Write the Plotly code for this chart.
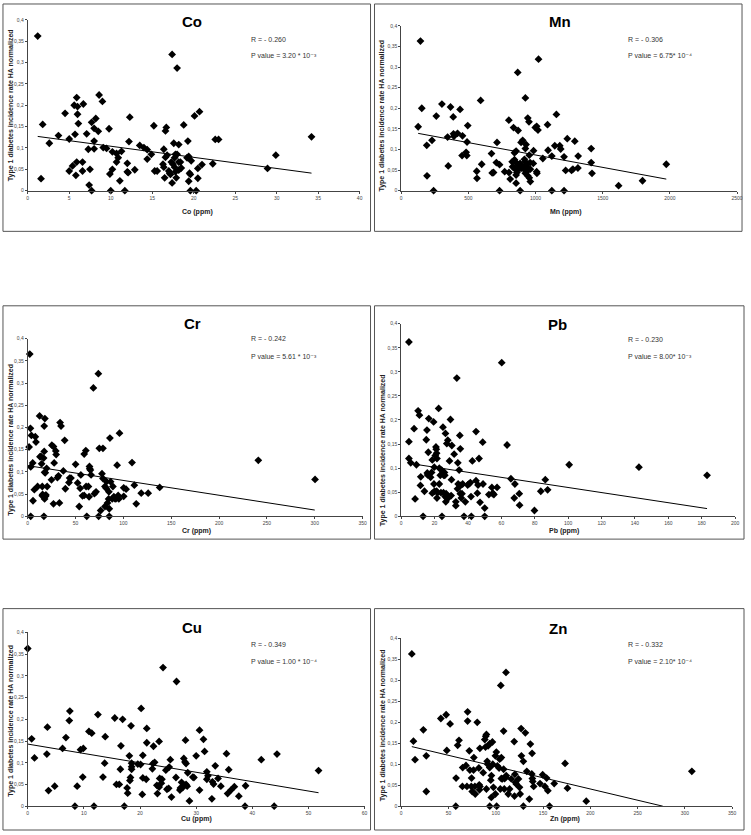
import plotly.graph_objects as go

W, H = 751, 835

# ---------------- data ----------------
co_data = [(1.2,0.362),(1.6,0.028),(1.8,0.155),(2.6,0.111),(3.7,0.129),(4.5,0.181),(5.0,0.121),(5.0,0.046),
 (5.4,0.058),(5.6,0.200),(5.7,0.132),(5.8,0.036),(5.9,0.218),(5.9,0.067),(6.0,0.197),(6.0,0.179),(6.1,0.157),
 (6.6,0.067),(6.6,0.046),(6.7,0.203),(7.1,0.133),(7.3,0.097),(7.4,0.013),(7.5,0.050),(7.7,0.160),(7.7,0.0),
 (8.0,0.116),(8.0,0.146),(8.0,0.098),(8.2,0.169),(8.5,0.139),(8.6,0.224),(9.0,0.209),(9.1,0.101),(9.5,0.099),
 (9.8,0.145),(9.9,0.039),(10.0,0.0),(10.2,0.091),(10.2,0.050),(10.7,0.087),(10.7,0.067),(10.9,0.077),(11.1,0.023),
 (11.3,0.092),(11.7,0.0),(12.0,0.064),(12.0,0.044),(12.1,0.042),(12.2,0.115),(12.3,0.172),(12.9,0.049),(13.5,0.106),
 (14.0,0.101),(14.4,0.096),(14.4,0.074),(14.9,0.085),(15.2,0.152),(15.3,0.046),(15.6,0.046),(16.3,0.062),(16.4,0.055),
 (16.4,0.097),(16.5,0.030),(16.6,0.140),(16.7,0.148),(16.6,0.078),(16.8,0.083),(17.0,0.046),(17.1,0.041),(17.2,0.038),
 (17.3,0.067),(17.4,0.018),(17.4,0.319),(17.5,0.062),(17.6,0.111),(17.7,0.077),(17.7,0.055),(17.8,0.085),(17.8,0.044),
 (17.9,0.030),(18.0,0.287),(18.0,0.085),(18.2,0.108),(18.2,0.067),(18.2,0.048),(18.4,0.067),(18.5,0.053),(18.8,0.154),
 (19.2,0.077),(19.3,0.116),(19.4,0.080),(19.4,0.022),(19.5,0.041),(19.6,0.038),(19.6,0.0),(19.7,0.070),(20.1,0.175),
 (20.3,0.0),(20.5,0.052),(20.5,0.029),(20.7,0.185),(21.0,0.061),(22.3,0.063),(22.6,0.120),(23.0,0.120),(28.9,0.052),
 (29.9,0.083),(34.2,0.126)]
co_trend_x = [1.2, 34.2]
co_trend_y = [0.127, 0.041]

mn_data = [(126,0.155),(143,0.363),(153,0.200),(190,0.110),(192,0.036),(229,0.122),(241,0),(261,0.181),(303,0.210),
 (345,0.130),(350,0.060),(367,0.203),(387,0.179),(389,0.138),(392,0.132),(419,0.139),(438,0.197),(456,0.133),
 (453,0.085),(483,0.093),(488,0.085),(490,0.118),(495,0.158),(562,0.047),(564,0.030),(591,0.219),(599,0.064),
 (672,0.090),(677,0.043),(687,0.044),(708,0.068),(713,0.117),(732,0.063),(732,0),(770,0.046),(801,0.171),(802,0.044),
 (811,0.028),(826,0.070),(829,0.058),(836,0.153),(843,0.092),(843,0.075),(844,0.054),(855,0.096),(855,0.068),
 (855,0.038),(855,0.018),(861,0.049),(861,0.044),(867,0.287),(870,0.146),(870,0.063),(873,0.055),(885,0.066),
 (885,0),(892,0.117),(892,0.054),(904,0.122),(904,0.058),(914,0.052),(917,0.076),(924,0.225),(924,0.102),(924,0.070),
 (924,0.042),(929,0.112),(934,0.063),(934,0.046),(942,0.176),(942,0.055),(942,0.036),(951,0.167),(953,0.086),
 (953,0.031),(959,0.068),(961,0.052),(961,0.022),(983,0.066),(985,0.097),(998,0.153),(1008,0.156),(1008,0.046),
 (1010,0.042),(1018,0.147),(1022,0.319),(1054,0.078),(1089,0.160),(1093,0.098),(1121,0.084),(1121,0),(1143,0.109),
 (1155,0.185),(1180,0.109),(1187,0.101),(1212,0.082),(1212,0),(1224,0.049),(1236,0.126),(1268,0.049),(1278,0.052),
 (1292,0.120),(1315,0.055),(1317,0.084),(1414,0.102),(1414,0.068),(1420,0.042),(1618,0.012),(1796,0.024),(1973,0.064)]
mn_trend_x = [126, 1973]
mn_trend_y = [0.139, 0.028]

cr_data = [(2.1,0.365),(1.4,0.156),(2.8,0.198),(3.1,0.111),(3.1,0),(3.8,0.182),(5.2,0.120),(5.5,0.035),(6.9,0.060),
 (7.9,0.179),(8.6,0.167),(10.3,0.067),(12.4,0.226),(12.8,0.134),(13.8,0.135),(14.5,0.118),(15.2,0.067),(15.5,0.049),
 (15.2,0.046),(16.6,0.131),(16.9,0.046),(17.2,0.203),(17.2,0.146),(17.6,0.099),(17.6,0.039),(16.9,0),(17.9,0.220),
 (18.3,0.098),(18.6,0.045),(19.0,0.048),(19.7,0.108),(20.3,0.067),(24.8,0.082),(25.2,0.160),(26.9,0.157),(26.9,0.028),
 (27.6,0.120),(29.3,0.147),(29.7,0.139),(31.0,0.087),(32.1,0.091),(33.1,0.030),(33.8,0.211),(34.8,0.203),(37.2,0.102),
 (38.6,0.171),(39.3,0.062),(43.1,0.076),(43.8,0.086),(45.2,0.086),(50.0,0.117),(52.1,0.075),(53.8,0.022),(54.8,0.063),
 (55.5,0.093),(57.2,0.046),(59.0,0.047),(59.0,0.140),(60.7,0.148),(61.0,0.067),(61.7,0),(63.4,0.067),(64.1,0.044),
 (64.5,0.112),(64.8,0.107),(65.5,0.104),(66.2,0.093),(68.6,0.289),(69.7,0.051),(71.4,0.055),(73.8,0.321),(74.1,0),
 (74.8,0.153),(76.2,0.013),(77.6,0.096),(78.6,0.153),(78.6,0.085),(80.7,0.022),(80.7,0.067),(82.1,0.063),(82.4,0.078),
 (83.4,0.030),(84.8,0.055),(84.5,0.039),(85.2,0.017),(85.2,0),(85.9,0.176),(86.6,0.078),(88.3,0.039),(89.0,0.067),
 (90.0,0.044),(91.0,0.040),(92.1,0.039),(93.4,0.115),(94.5,0.047),(95.2,0.039),(95.9,0.187),(100.3,0.064),
 (100.3,0.045),(102.8,0.061),(109.0,0.121),(111.4,0.070),(113.4,0.028),(118.6,0.052),(125.9,0.052),(137.9,0.065),
 (241,0.126),(300.3,0.083)]
cr_trend_x = [0, 300]
cr_trend_y = [0.114, 0.014]

pb_data = [(4.6,0.362),(4.6,0.155),(4.6,0.120),(5.7,0.111),(7.7,0.182),(8.3,0.036),(9.1,0.107),(10.1,0.219),
 (10.9,0.210),(11.5,0.064),(11.7,0.082),(13.1,0),(13.9,0.052),(15.0,0.159),(15.6,0.090),(15.4,0.179),(15.8,0.086),
 (16.2,0.133),(16.5,0.203),(17.6,0.081),(18.2,0.091),(18.6,0.117),(18.6,0.048),(19.4,0.196),(19.6,0.067),(19.8,0.102),
 (20.0,0.052),(20.4,0.126),(20.8,0.144),(21.0,0.139),(21.2,0.052),(21.2,0.131),(21.4,0.120),(21.4,0.038),(21.8,0.049),
 (22.4,0.224),(22.8,0.100),(22.8,0.067),(23.4,0.085),(23.8,0.049),(24.2,0.096),(24.4,0),(24.6,0.089),(25.0,0.185),
 (25.3,0.049),(25.5,0.085),(25.9,0.091),(26.1,0.085),(26.5,0.172),(26.3,0.041),(26.7,0.030),(26.9,0.047),(27.3,0.151),
 (27.5,0.037),(27.7,0.043),(27.9,0.158),(28.1,0.038),(28.9,0.115),(29.5,0.201),(29.9,0.043),(30.1,0.076),(30.3,0.147),
 (31.7,0.129),(32.7,0.030),(32.7,0.022),(33.3,0.287),(33.7,0.057),(33.9,0.111),(34.1,0.067),(34.7,0.096),(35.1,0.168),
 (35.4,0.140),(35.4,0.047),(35.6,0.064),(36.0,0.038),(36.4,0.047),(36.8,0.067),(37.6,0),(38.4,0.030),(39.8,0.065),
 (40.8,0.068),(41.4,0.070),(41.8,0.041),(42.0,0),(42.6,0.115),(44.8,0.074),(44.8,0.176),(45.6,0.048),(46.0,0.065),
 (46.6,0.120),(47.2,0.029),(48.8,0.154),(49.0,0.067),(50.0,0.017),(50.0,0),(52.5,0.045),(54.3,0.060),(54.7,0.047),
 (54.9,0.048),(55.5,0.045),(57.4,0.060),(60.2,0.319),(63.4,0.148),(65.7,0.078),(68.1,0.067),(67.7,0.038),(70.7,0.047),
 (70.9,0.023),(79.8,0.012),(83.6,0.052),(86.3,0.076),(87.7,0.055),(100.6,0.107),(142.4,0.102),(183.2,0.085)]
pb_trend_x = [4.6, 183.2]
pb_trend_y = [0.110, 0.016]

cu_data = [(0.0,0.363),(0.7,0.155),(1.2,0.111),(3.5,0.182),(3.4,0.120),(3.7,0.036),(4.8,0.046),(6.2,0.133),(6.8,0.158),
 (7.4,0.197),(7.5,0.219),(8.4,0),(8.8,0.046),(9.4,0.130),(9.9,0.133),(9.8,0.067),(10.9,0.172),(11.4,0.168),(11.8,0),
 (12.5,0.211),(13.4,0.067),(13.7,0.099),(13.8,0.160),(15.5,0.203),(15.8,0.050),(16.3,0.050),(16.5,0.085),(16.6,0.139),
 (16.9,0.200),(17.2,0),(17.7,0.042),(17.8,0.030),(18.1,0.116),(18.2,0.059),(18.3,0.066),(18.4,0.185),(18.5,0.099),
 (18.5,0.091),(18.5,0.085),(19.6,0.097),(20.1,0.096),(20.2,0.225),(20.4,0.027),(20.5,0.117),(20.5,0.065),(21.1,0.062),
 (21.2,0.179),(21.2,0.146),(22.2,0.086),(22.3,0.098),(22.4,0.138),(22.6,0.101),(23.0,0.048),(23.1,0.029),(23.4,0.149),
 (23.4,0.044),(23.5,0.064),(23.9,0.062),(23.8,0.053),(24.1,0.319),(24.6,0.083),(24.8,0.039),(25.1,0.041),(25.2,0.090),
 (25.4,0.107),(25.6,0.021),(26.4,0.066),(26.5,0.287),(27.1,0.037),(27.2,0.042),(27.4,0.055),(27.6,0.043),(27.8,0.110),
 (28.0,0.102),(28.1,0.152),(28.2,0.098),(28.2,0.050),(28.4,0.046),(28.5,0.077),(28.8,0.012),(29.4,0.067),(29.6,0.066),
 (30.0,0.116),(30.6,0.037),(30.6,0.175),(31.3,0.154),(31.5,0.126),(31.9,0.079),(31.9,0.062),(32.1,0.070),(32.8,0.017),
 (32.9,0.056),(33.1,0.051),(33.4,0.093),(33.9,0.064),(34.4,0.046),(35.4,0.121),(35.6,0.029),(35.8,0.084),(36.2,0.037),
 (36.8,0.045),(37.6,0.023),(38.7,0),(38.8,0.047),(41.6,0.107),(43.9,0),(44.4,0.120),(51.8,0.082)]
cu_trend_x = [0, 51.8]
cu_trend_y = [0.143, 0.031]

zn_data = [(11.2,0.363),(12.9,0.155),(14.6,0.111),(23.4,0.182),(26.5,0.120),(26.5,0.035),(41.9,0.209),(47.5,0.218),
 (51.7,0.196),(48.2,0.133),(58.0,0.067),(57.7,0),(61.1,0.157),(59.7,0.145),(65.0,0.092),(64.7,0.047),(68.5,0.097),
 (70.2,0.225),(70.2,0.203),(69.5,0.047),(72.0,0.132),(72.6,0.086),(74.4,0.067),(74.1,0.047),(75.1,0.035),(76.8,0.116),
 (76.5,0.086),(77.9,0.047),(78.3,0.029),(80.4,0.200),(82.1,0.091),(83.2,0.138),(82.5,0.051),(82.8,0.039),(83.2,0.047),
 (86.7,0.080),(90.1,0.041),(89.1,0.141),(89.4,0.167),(90.1,0.171),(88.4,0.159),(90.9,0.107),(91.5,0.100),(91.9,0.144),
 (93.6,0.092),(93.6,0.149),(95.4,0.073),(94.7,0.062),(96.4,0.153),(95.3,0.021),(93.6,0),(96.8,0.100),(97.5,0.045),
 (99.6,0.029),(99.6,0.120),(100.6,0.129),(100.9,0),(101.7,0.096),(103.5,0.091),(104.1,0.112),(105.9,0.116),(104.8,0.041),
 (105.9,0.066),(106.9,0.065),(108.3,0.179),(108.3,0.088),(109.0,0.041),(109.4,0.066),(110.4,0.069),(111.1,0.073),
 (113.2,0.029),(114.6,0.041),(116.4,0.065),(119.5,0.154),(120.2,0.076),(119.8,0.024),(120.8,0.057),(121.6,0.053),
 (124.0,0.065),(125.1,0.045),(125.8,0.029),(126.8,0.185),(127.1,0.120),(129.2,0),(129.2,0.107),(131.3,0.175),
 (132.8,0.083),(135.5,0.017),(136.6,0.148),(138.4,0.126),(138.1,0.077),(138.7,0.066),(139.1,0.059),(140.1,0.047),
 (146.8,0.054),(149.6,0.075),(152.0,0.047),(153.8,0.067),(155.1,0.037),(156.9,0),(161.8,0.054),(173.3,0.102),
 (175.8,0.043),(195.7,0.012),(105.3,0.288),(110.8,0.319),(307.4,0.083)]
zn_trend_x = [11.2, 276.7]
zn_trend_y = [0.142, 0.0]

y_tick_vals = [0, 0.05, 0.1, 0.15, 0.2, 0.25, 0.3, 0.35, 0.4]
y_tick_text = ["0", "0,05", "0,1", "0,15", "0,2", "0,25", "0,3", "0,35", "0,4"]

# ---------------- panel layout (pixel geometry) ----------------
panels = [
    dict(name="Co", data=co_data, tx=co_trend_x, ty=co_trend_y, xmax=40, dtick=5,
         plot=(27, 362, 17, 189), border=(2, 1, 373, 230), title=(193, 19), stats=(250, 37, 53),
         xlab=(198, 211), ylab=(10, 103), r="R = - 0.260", p="P value = 3.20 * 10⁻³"),
    dict(name="Mn", data=mn_data, tx=mn_trend_x, ty=mn_trend_y, xmax=2500, dtick=500,
         plot=(404, 743, 23, 189), border=(377, 1, 748, 230), title=(564, 19), stats=(631, 37, 53),
         xlab=(570, 211), ylab=(385, 113), r="R = - 0.306", p="P value = 6.75* 10⁻⁴"),
    dict(name="Cr", data=cr_data, tx=cr_trend_x, ty=cr_trend_y, xmax=350, dtick=50,
         plot=(27, 365, 338, 517), border=(2, 305, 373, 540), title=(193, 323), stats=(250, 338, 356),
         xlab=(197, 532), ylab=(10, 440), r="R = - 0.242", p="P value = 5.61 * 10⁻³"),
    dict(name="Pb", data=pb_data, tx=pb_trend_x, ty=pb_trend_y, xmax=200, dtick=20,
         plot=(404, 741, 323, 517), border=(377, 305, 750, 540), title=(562, 324), stats=(631, 339, 356),
         xlab=(568, 532), ylab=(385, 450), r="R = - 0.230", p="P value = 8.00* 10⁻³"),
    dict(name="Cu", data=cu_data, tx=cu_trend_x, ty=cu_trend_y, xmax=60, dtick=10,
         plot=(27, 367, 634, 809), border=(2, 610, 373, 833), title=(193, 629), stats=(250, 646, 663),
         xlab=(197, 822), ylab=(10, 723), r="R = - 0.349", p="P value = 1.00 * 10⁻⁴"),
    dict(name="Zn", data=zn_data, tx=zn_trend_x, ty=zn_trend_y, xmax=350, dtick=50,
         plot=(404, 738, 640, 809), border=(377, 610, 750, 833), title=(562, 630), stats=(631, 646, 663),
         xlab=(569, 822), ylab=(385, 727), r="R = - 0.332", p="P value = 2.10* 10⁻⁴"),
]

FONT = "Liberation Sans, Arial, DejaVu Sans, sans-serif"


def px(x):
    return x / W


def py(y):
    return 1 - y / H


fig = go.Figure()
annotations = []
shapes = []
layout_axes = {}

for i, pn in enumerate(panels, start=1):
    xs = [d[0] for d in pn["data"]]
    ys = [d[1] for d in pn["data"]]
    xa = "x" if i == 1 else f"x{i}"
    ya = "y" if i == 1 else f"y{i}"
    fig.add_trace(go.Scatter(x=xs, y=ys, mode="markers", xaxis=xa, yaxis=ya,
                             marker=dict(symbol="diamond", size=6, color="black"),
                             showlegend=False, hoverinfo="skip", cliponaxis=False))
    fig.add_trace(go.Scatter(x=pn["tx"], y=pn["ty"], mode="lines", xaxis=xa, yaxis=ya,
                             line=dict(color="black", width=1), showlegend=False, hoverinfo="skip"))
    x0, x1, yt, yb = pn["plot"]
    xkey = "xaxis" if i == 1 else f"xaxis{i}"
    ykey = "yaxis" if i == 1 else f"yaxis{i}"
    layout_axes[xkey] = dict(domain=[px(x0), px(x1)], range=[0, pn["xmax"]], anchor=ya,
                             tick0=0, dtick=pn["dtick"], showgrid=False, zeroline=False,
                             showline=True, linecolor="#444", linewidth=1, ticks="outside",
                             ticklen=2, tickcolor="#444", mirror=False,
                             tickfont=dict(family=FONT, size=5, color="#444"))
    layout_axes[ykey] = dict(domain=[py(yb), py(yt)], range=[0, 0.4], anchor=xa,
                             tickvals=y_tick_vals, ticktext=y_tick_text, showgrid=False,
                             zeroline=False, showline=True, linecolor="#444", linewidth=1,
                             ticks="outside", ticklen=2, tickcolor="#444",
                             tickfont=dict(family=FONT, size=5, color="#444"))
    bx0, by0, bx1, by1 = pn["border"]
    shapes.append(dict(type="rect", xref="paper", yref="paper", x0=px(bx0), x1=px(bx1),
                       y0=py(by1), y1=py(by0), line=dict(color="#555", width=1)))
    tx, ty = pn["title"]
    annotations.append(dict(text=f"<b>{pn['name']}</b>", x=px(tx), y=py(ty), xref="paper", yref="paper",
                            showarrow=False, xanchor="center", yanchor="middle",
                            font=dict(family=FONT, size=15, color="black")))
    sx, ry, pyy = pn["stats"]
    annotations.append(dict(text=pn["r"], x=px(sx), y=py(ry), xref="paper", yref="paper",
                            showarrow=False, xanchor="left", yanchor="middle",
                            font=dict(family=FONT, size=7, color="#333")))
    annotations.append(dict(text=pn["p"], x=px(sx), y=py(pyy), xref="paper", yref="paper",
                            showarrow=False, xanchor="left", yanchor="middle",
                            font=dict(family=FONT, size=7, color="#333")))
    lx, ly = pn["xlab"]
    annotations.append(dict(text=f"<b>{pn['name']} (ppm)</b>", x=px(lx), y=py(ly), xref="paper",
                            yref="paper", showarrow=False, xanchor="center", yanchor="middle",
                            font=dict(family=FONT, size=7, color="#222")))
    vx, vy = pn["ylab"]
    annotations.append(dict(text="<b>Type 1 diabetes incidence rate HA normalized</b>", x=px(vx), y=py(vy),
                            xref="paper", yref="paper", showarrow=False, textangle=-90,
                            xanchor="center", yanchor="middle",
                            font=dict(family=FONT, size=7, color="#222")))

fig.update_layout(width=W, height=H, margin=dict(l=0, r=0, t=0, b=0),
                  paper_bgcolor="white", plot_bgcolor="white",
                  annotations=annotations, shapes=shapes, **layout_axes)

fig.write_html("out.html", config={"displayModeBar": False},
               post_script="document.body.style.margin='0';document.body.style.padding='0';"
                           "document.documentElement.style.overflow='hidden';")
